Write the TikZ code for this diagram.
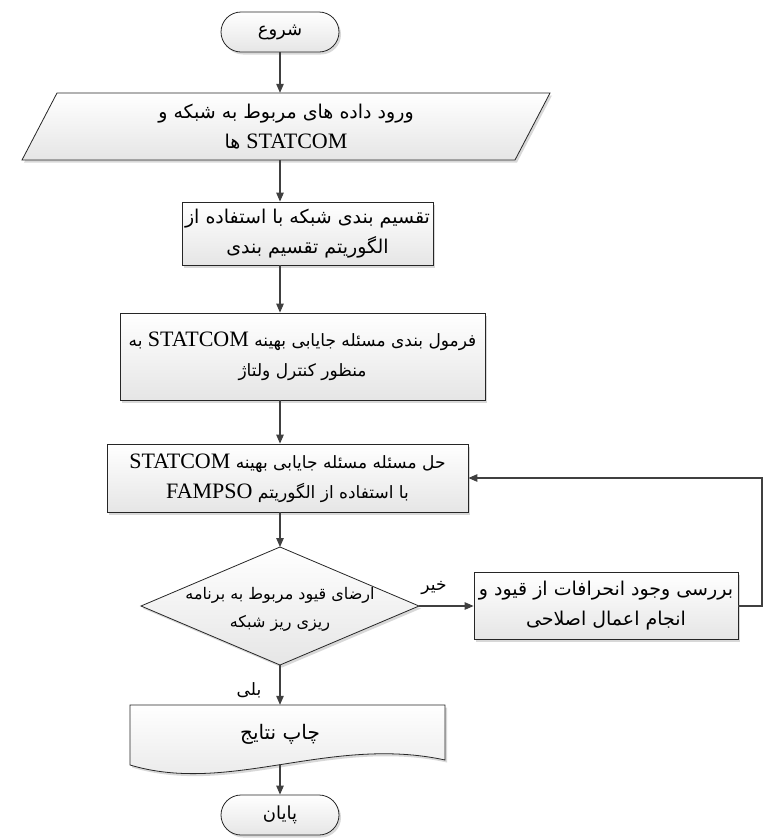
\documentclass[tikz,border=0pt]{standalone}
\usepackage{fontspec}
\setmainfont{Liberation Serif}
\newfontfamily\arabicfont[Script=Arabic]{DejaVu Sans}
\TeXXeTstate=1
\usetikzlibrary{arrows.meta,shadows}
\definecolor{linec}{HTML}{404040}
\definecolor{edgec}{HTML}{262626}
\newcommand\fa[1]{\beginR #1\endR}
\newcommand\lat[1]{\beginL{\rmfamily\fontsize{22}{30}\selectfont #1}\endL}
\newcommand\fsz[1]{\fontsize{#1}{30}\selectfont}
\tikzset{
  shp/.style={draw=edgec, line width=0.8pt, top color=white, bottom color=black!10,
    drop shadow={shadow xshift=2pt,shadow yshift=-2.5pt,fill=black!30,opacity=0.5}},
  txt/.style={font=\arabicfont\fsz{19}, align=center, inner sep=0pt},
  boxn/.style={shp, txt, rectangle},
  term/.style={shp, txt, font=\arabicfont\fsz{18}, rectangle, rounded corners=20pt, minimum width=118pt, minimum height=40pt},
  arr/.style={draw=linec, line width=1.1pt, -{Triangle[length=9pt,width=7.5pt]}},
  lbl/.style={font=\arabicfont\fsz{17}, inner sep=0pt}
}
\begin{document}
\begin{tikzpicture}[x=1pt,y=-1pt]
\useasboundingbox (0,0) rectangle (763,839);
\coordinate (ax) at (280,0);
% start
\node[term] (start) at (280,32) {\fa{شروع}};
% input parallelogram
\path[shp] (57,93) -- (550,93) -- (515,160) -- (22,160) -- cycle;
\node[txt, minimum width=458pt, minimum height=67pt] (para) at (286,126.5)
  {\fa{ورود داده های مربوط به شبکه و}\\ \fa{\lat{STATCOM} ها}};
% box 2
\node[boxn, minimum width=251pt, minimum height=63pt] (part) at (307.5,233.5)
  {\fa{تقسیم بندی شبکه با استفاده از}\\ \fa{الگوریتم تقسیم بندی}};
% box 3
\node[boxn, font=\arabicfont\fsz{17}, minimum width=365pt, minimum height=87pt] (form) at (302.5,356.5)
  {\fa{فرمول بندی مسئله جایابی بهینه \lat{STATCOM} به}\\ \fa{منظور کنترل ولتاژ}};
% box 4
\node[boxn, font=\arabicfont\fsz{17}, minimum width=361pt, minimum height=68pt] (solve) at (287.5,478)
  {\fa{حل مسئله مسئله جایابی بهینه \lat{STATCOM}}\\ \fa{با استفاده از الگوریتم \lat{FAMPSO}}};
% decision
\coordinate (dN) at (280,547);
\coordinate (dE) at (419,606);
\coordinate (dS) at (280,665);
\coordinate (dW) at (141,606);
\path[shp] (dN) -- (dE) -- (dS) -- (dW) -- cycle;
\node[txt, font=\arabicfont\fontsize{16}{28}\selectfont] (dec) at (280,609) {\fa{ارضای قیود مربوط به برنامه}\\ \fa{ریزی ریز شبکه}};
% box 5
\node[boxn, minimum width=264pt, minimum height=67pt] (fix) at (606,606)
  {\fa{بررسی وجود انحرافات از قیود و}\\ \fa{انجام اعمال اصلاحی}};
% tape / document
\path[shp] (130,705) -- (445,705) -- (445,760) .. controls (330,735) and (230,795) .. (130,765) -- cycle;
\node[txt, font=\arabicfont\fsz{20}, minimum width=310pt, minimum height=59pt] (tape) at (280,734.5) {\fa{چاپ نتایج}};
% end
\node[term] (end) at (280,815) {\fa{پایان}};
% labels
\node[lbl] (no) at (434,588) {\fa{خیر}};
\node[lbl] (yes) at (249,690) {\fa{بلی}};
% connectors
\draw[arr] (start.south) -- (ax |- para.north);
\draw[arr] (ax |- para.south) -- (ax |- part.north);
\draw[arr] (ax |- part.south) -- (ax |- form.north);
\draw[arr] (ax |- form.south) -- (ax |- solve.north);
\draw[arr] (ax |- solve.south) -- (dN);
\draw[arr] (dE) -- (fix.west);
\draw[arr] (dS) -- (ax |- tape.north);
\draw[arr] (ax |- tape.south) -- (end.north);
\coordinate (fbA) at (762,606);
\coordinate (fbB) at (762,478);
\draw[arr] (fix.east) -- (fbA) -- (fbB) -- (solve.east);
\end{tikzpicture}
\end{document}
